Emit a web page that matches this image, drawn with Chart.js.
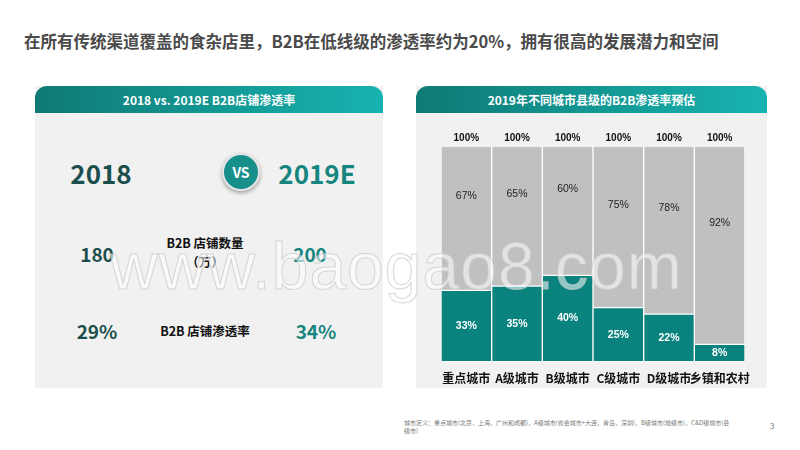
<!doctype html>
<html lang="zh">
<head>
<meta charset="utf-8">
<script src="https://cdn.jsdelivr.net/npm/chart.js"></script>
<style>
  html, body { margin: 0; padding: 0; overflow: hidden; }
  body { width: 800px; height: 450px; background: #fff; position: relative; font-family: "Noto Sans CJK SC", "Liberation Sans", sans-serif; }
  .title { position: absolute; left: 24px; top: 29px; font-size: 16.5px; font-weight: bold; color: #4a4a4a; }
  .panel { position: absolute; top: 86px; height: 302px; background: #f1f1f1; }
  .head { height: 27px; line-height: 27px; text-align: center; color: #fff; font-weight: bold; font-size: 12px;
          background: linear-gradient(90deg, #0f7a75, #18b3b0); border-radius: 12px 12px 0 0; }
  .t { position: absolute; font-weight: bold; transform: translate(-50%, -50%); white-space: nowrap; }
  .vs { position: absolute; left: 187px; top: 67px; width: 34px; height: 34px; border-radius: 50%; background: #17908c;
        color: #fff; font-weight: bold; font-size: 14px; text-align: center; line-height: 34px; box-shadow: 0 2px 4px rgba(0,0,0,.35); border: 2px solid #e6e6e6; }
  .wm { position: absolute; left: 110px; top: 228px; font-size: 66px; font-family: "Liberation Sans", sans-serif; color: rgba(255,255,255,0.55);
        -webkit-text-stroke: 1px rgba(200,200,200,0.7); letter-spacing: 1px; }
  .note { position: absolute; left: 404px; top: 419px; font-size: 6px; color: #777; line-height: 8px; width: 330px; }
</style>
</head>
<body>
<div class="title">在所有传统渠道覆盖的食杂店里，B2B在低线级的渗透率约为20%，拥有很高的发展潜力和空间</div>

<div class="panel" style="left:35px; width:348px;">
  <div class="head">2018 vs. 2019E B2B店铺渗透率</div>
  <div class="t" style="left:66px; top:86px; font-size:26px; color:#1b4f4d;">2018</div>
  <div class="vs">VS</div>
  <div class="t" style="left:282px; top:86px; font-size:26px; color:#17857f;">2019E</div>
  <div class="t" style="left:62px; top:167px; font-size:19px; color:#1b4f4d;">180</div>
  <div class="t" style="left:170px; top:166px; font-size:12.5px; color:#111; text-align:center; line-height:19px;">B2B 店铺数量<br>（万）</div>
  <div class="t" style="left:275px; top:167px; font-size:19px; color:#17857f;">200</div>
  <div class="t" style="left:62px; top:244px; font-size:19px; color:#1b4f4d;">29%</div>
  <div class="t" style="left:170px; top:244px; font-size:12.5px; color:#111;">B2B 店铺渗透率</div>
  <div class="t" style="left:281px; top:244px; font-size:19px; color:#17857f;">34%</div>
</div>

<div class="panel" style="left:416px; width:351px;">
  <div class="head">2019年不同城市县级的B2B渗透率预估</div>
</div>
<canvas id="c" style="position:absolute; left:416px; top:113px; width:351px; height:275px;"></canvas>

<div class="wm">www.baogao8.com</div>
<div class="note">城市定义：重点城市(北京，上海，广州和成都)，A级城市(省会城市+大连，青岛，深圳)，B级城市(地级市)，C&amp;D级城市(县级市)</div>
<div style="position:absolute; left:770px; top:420px; font-size:8px; color:#777;">3</div>

<script>
const categories = ['重点城市', 'A级城市', 'B级城市', 'C级城市', 'D级城市', '乡镇和农村'];
const b2bShare = [33, 35, 40, 25, 22, 8];
const otherShare = [67, 65, 60, 75, 78, 92];
const totals = ['100%', '100%', '100%', '100%', '100%', '100%'];

const labelPlugin = {
  id: 'labels',
  afterDatasetsDraw(chart) {
    const ctx = chart.ctx;
    ctx.save();
    ctx.textAlign = 'center';
    ctx.textBaseline = 'middle';
    chart.data.datasets.forEach((ds, di) => {
      chart.getDatasetMeta(di).data.forEach((bar, i) => {
        const y = (bar.y + bar.base) / 2 + (di === 1 ? -22 : 0);
        ctx.font = di === 0 ? 'bold 10.5px "Liberation Sans", sans-serif' : '10.5px "Liberation Sans", sans-serif';
        ctx.fillStyle = di === 0 ? '#fff' : '#222';
        ctx.fillText(ds.data[i] + '%', bar.x, y);
      });
    });
    const top = chart.getDatasetMeta(1).data;
    ctx.font = 'bold 10px "Liberation Sans", sans-serif';
    ctx.fillStyle = '#111';
    top.forEach((bar, i) => ctx.fillText(totals[i], bar.x, bar.y - 8));
    ctx.restore();
  }
};

new Chart(document.getElementById('c'), {
  type: 'bar',
  data: {
    labels: categories,
    datasets: [
      { data: b2bShare, backgroundColor: '#0a837f', borderColor: '#ffffff', borderWidth: 1, borderSkipped: false },
      { data: otherShare, backgroundColor: '#c0c0c0', borderColor: '#ffffff', borderWidth: 1, borderSkipped: false }
    ]
  },
  options: {
    responsive: false,
    animation: false,
    datasets: { bar: { categoryPercentage: 1, barPercentage: 1 } },
    layout: { padding: { left: 25, right: 22, top: 33, bottom: 0 } },
    plugins: { legend: { display: false }, tooltip: { enabled: false } },
    scales: {
      x: {
        stacked: true,
        grid: { display: false }, border: { display: false },
        ticks: { color: '#111', font: { size: 12, weight: 'bold', family: '"Noto Sans CJK SC", sans-serif' }, padding: 2, maxRotation: 0, autoSkip: false }
      },
      y: { stacked: true, min: 0, max: 100, display: false }
    }
  },
  plugins: [labelPlugin]
});
</script>
</body>
</html>
